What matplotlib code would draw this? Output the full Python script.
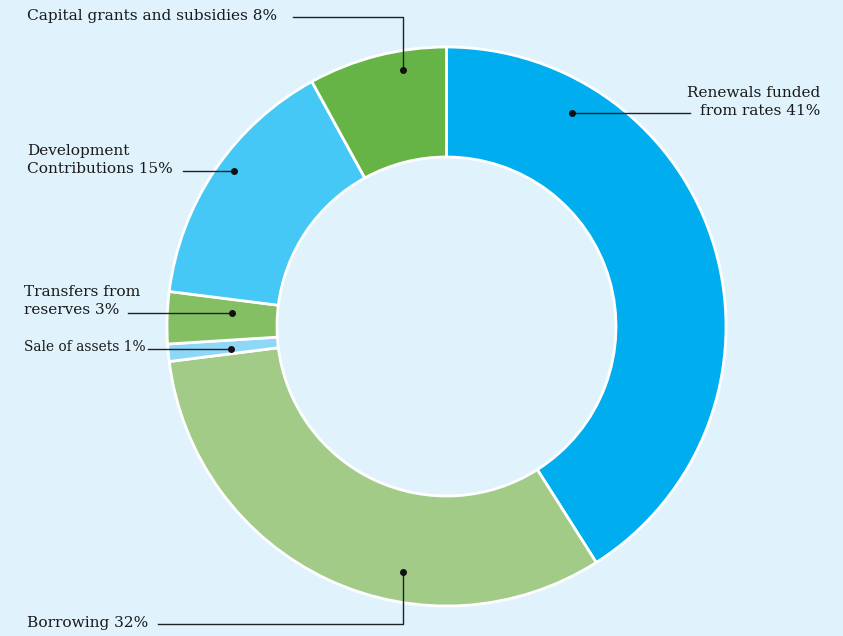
import matplotlib
matplotlib.use("Agg")
import matplotlib.pyplot as plt

labels = ["Renewals funded\nfrom rates", "Borrowing", "Sale of assets",
          "Transfers from\nreserves", "Development\nContributions",
          "Capital grants and subsidies"]
values = [41, 32, 1, 3, 15, 8]
colors = ["#00aeef", "#a2cb88", "#8fd7f7", "#84bf63", "#45c8f5", "#66b446"]

W, H = 843, 636
BG = "#e0f2fc"
fig = plt.figure(figsize=(W / 100, H / 100), dpi=100, facecolor=BG)
ax = fig.add_axes([0, 0, 1, 1])
ax.set_facecolor(BG)

cx, cy, R = 446.5, 326.5, 279.5
ax.pie(values, colors=colors, startangle=-90, counterclock=True, center=(cx, cy),
       radius=R, frame=True,
       wedgeprops=dict(width=110, edgecolor="white", linewidth=2))
ax.set_xlim(0, W)
ax.set_ylim(H, 0)
ax.set_aspect("equal")
ax.axis("off")

lc = "#222222"

def dot(x, y):
    ax.plot([x], [y], "o", color="#111111", ms=4, zorder=5)

ann = [
    (f"{labels[5]} {values[5]}%", (27, 16), "left", 11.1, [(293, 17), (403, 17), (403, 70)]),
    (f"{labels[0]} {values[0]}%", (820, 102), "right", 11.1, [(690, 113), (572, 113)]),
    (f"{labels[4]} {values[4]}%", (27, 160), "left", 11.1, [(183, 171), (234, 171)]),
    (f"{labels[3]} {values[3]}%", (24, 301), "left", 11.1, [(128, 313), (232, 313)]),
    (f"{labels[2]} {values[2]}%", (24, 347), "left", 9.9, [(148, 349), (231, 349)]),
    (f"{labels[1]} {values[1]}%", (27, 623), "left", 11.1, [(158, 624), (403, 624), (403, 572)]),
]
for txt, (tx, ty), ha, fs, path in ann:
    ax.text(tx, ty, txt, ha=ha, va="center", linespacing=1.45,
            multialignment=ha, family="DejaVu Serif", fontsize=fs, color="#1a1a1a")
    xs, ys = zip(*path)
    ax.plot(xs, ys, color=lc, lw=1, zorder=4)
    dot(*path[-1])

fig.savefig("out.png", dpi=100, facecolor=BG)
